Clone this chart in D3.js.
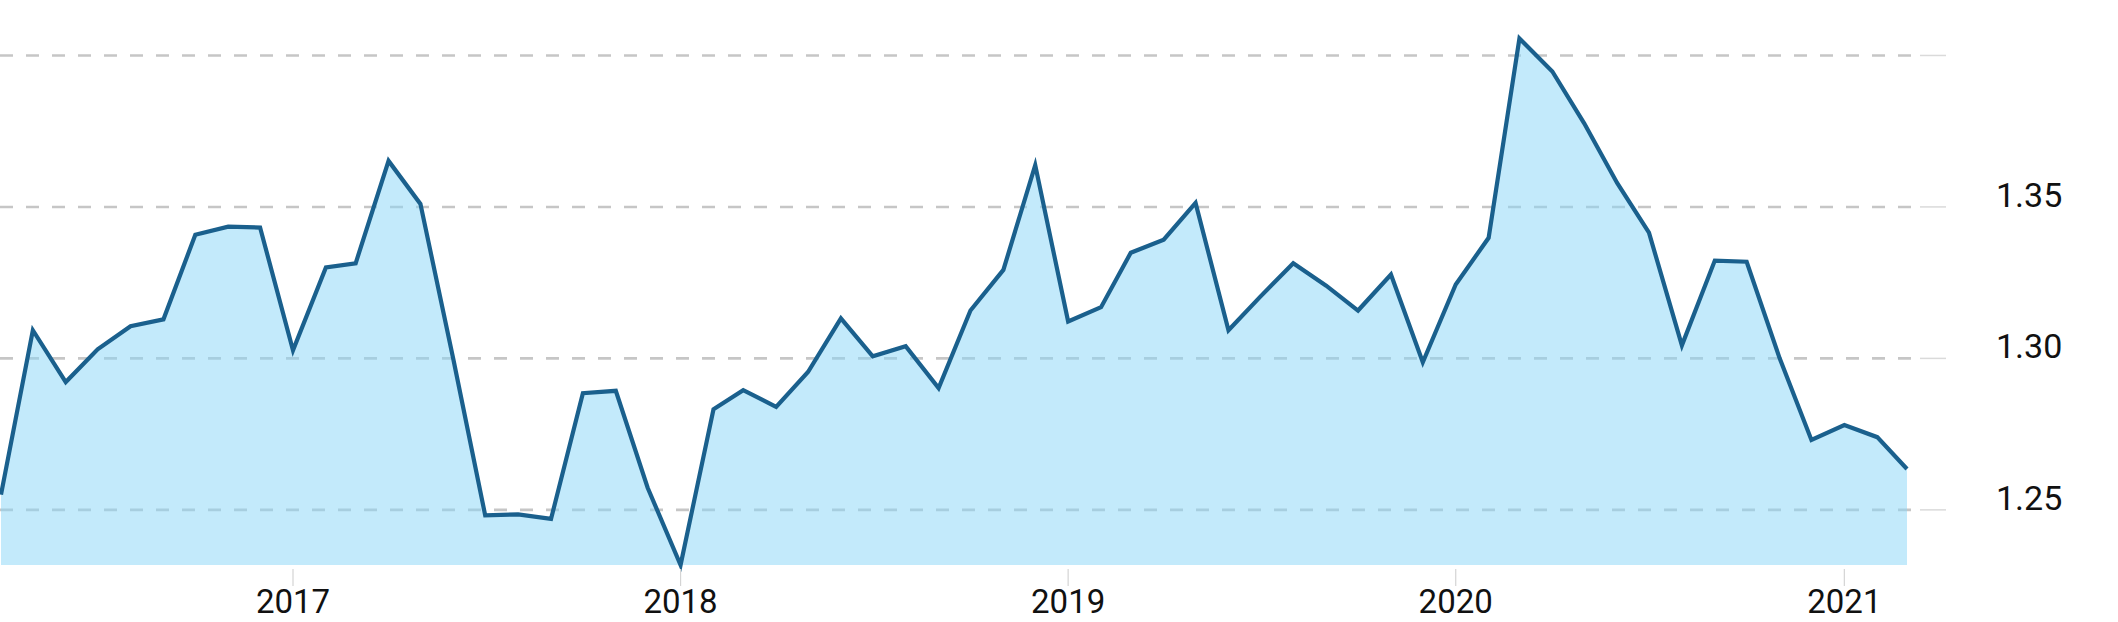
<!DOCTYPE html>
<html>
<head>
<meta charset="utf-8">
<script src="https://cdn.jsdelivr.net/npm/d3@7"></script>
<style>
  html, body { margin: 0; padding: 0; background: #ffffff; }
  svg { display: block; }
  text { font-family: Roboto, "Noto Sans", sans-serif; }
</style>
</head>
<body>
<div id="chart"></div>
<script>
// ---- data ----
const months = [
  "2016-04","2016-05","2016-06","2016-07","2016-08","2016-09","2016-10","2016-11","2016-12",
  "2017-01","2017-02","2017-03","2017-04","2017-05","2017-06","2017-07","2017-08","2017-09","2017-10","2017-11","2017-12",
  "2018-01","2018-02","2018-03","2018-04","2018-05","2018-06","2018-07","2018-08","2018-09","2018-10","2018-11","2018-12",
  "2019-01","2019-02","2019-03","2019-04","2019-05","2019-06","2019-07","2019-08","2019-09","2019-10","2019-11","2019-12",
  "2020-01","2020-02","2020-03","2020-04","2020-05","2020-06","2020-07","2020-08","2020-09","2020-10","2020-11","2020-12",
  "2021-01","2021-02","2021-03"
];
const values = [
  1.2550, 1.3093, 1.2922, 1.3030, 1.3106, 1.3129, 1.3408, 1.3435, 1.3432,
  1.3027, 1.3300, 1.3314, 1.3652, 1.3510, 1.2997, 1.2482, 1.2485, 1.2470, 1.2885, 1.2893, 1.2573,
  1.2318, 1.2832, 1.2895, 1.2840, 1.2955, 1.3132, 1.3007, 1.3040, 1.2902, 1.3158, 1.3292, 1.3638,
  1.3122, 1.3169, 1.3349, 1.3392, 1.3513, 1.3093, 1.3204, 1.3314, 1.3240, 1.3158, 1.3277, 1.2987,
  1.3244, 1.3398, 1.4056, 1.3947, 1.3776, 1.3579, 1.3415, 1.3043, 1.3323, 1.3319, 1.3001, 1.2731,
  1.2780, 1.2740, 1.2635
];
const gridValues = [1.25, 1.30, 1.35, 1.40];
const yTickLabels = ["1.25", "1.30", "1.35"];
const xTickLabels = ["2017", "2018", "2019", "2020", "2021"];

// ---- layout ----
const W = 2118, H = 622;
const plotLeft = 1, plotRight = 1907, gridRight = 1920, tickRight = 1946;
const plotTop = 38.5, plotBottom = 565;

const parse = d3.timeParse("%Y-%m");
const data = months.map((m, i) => ({ date: parse(m), value: values[i] }));

const x = d3.scaleTime()
  .domain(d3.extent(data, d => d.date))
  .range([plotLeft, plotRight]);
const y = d3.scaleLinear()
  .domain(d3.extent(data, d => d.value))
  .range([plotBottom, plotTop]);

const svg = d3.select("#chart").append("svg")
  .attr("width", W).attr("height", H);

// gridlines (under the translucent area)
svg.append("g").selectAll("line").data(gridValues).join("line")
  .attr("x1", 0).attr("x2", gridRight)
  .attr("y1", d => y(d)).attr("y2", d => y(d))
  .attr("stroke", "#c6c6c6")
  .attr("stroke-width", 2.6)
  .attr("stroke-dasharray", "13,13");

// right-hand tick marks
svg.append("g").selectAll("line").data(gridValues).join("line")
  .attr("x1", gridRight).attr("x2", tickRight)
  .attr("y1", d => y(d)).attr("y2", d => y(d))
  .attr("stroke", "#dadada")
  .attr("stroke-width", 1.5);

// area
const area = d3.area()
  .x(d => x(d.date))
  .y0(plotBottom)
  .y1(d => y(d.value));
svg.append("path").datum(data)
  .attr("d", area)
  .attr("fill", "rgb(135,213,247)")
  .attr("fill-opacity", 0.5);

// line
const line = d3.line()
  .x(d => x(d.date))
  .y(d => y(d.value));
svg.append("path").datum(data)
  .attr("d", line)
  .attr("fill", "none")
  .attr("stroke", "#1a608d")
  .attr("stroke-width", 4.2)
  .attr("stroke-linejoin", "miter")
  .attr("stroke-miterlimit", 10);

// y labels
svg.append("g").selectAll("text").data(yTickLabels).join("text")
  .attr("x", 1996)
  .attr("y", d => y(+d))
  .attr("text-anchor", "start")
  .attr("font-size", 34)
  .attr("fill", "#111")
  .text(d => d);

// x axis ticks and labels
const yearDates = xTickLabels.map(t => d3.timeParse("%Y")(t));
svg.append("g").selectAll("line").data(yearDates).join("line")
  .attr("x1", d => x(d)).attr("x2", d => x(d))
  .attr("y1", 569).attr("y2", 586)
  .attr("stroke", "#d4d4d4")
  .attr("stroke-width", 1.2);
svg.append("g").selectAll("text").data(xTickLabels).join("text")
  .attr("x", (d, i) => x(yearDates[i]))
  .attr("y", 613)
  .attr("text-anchor", "middle")
  .attr("font-size", 33)
  .attr("fill", "#111")
  .text(d => d);
</script>
</body>
</html>
